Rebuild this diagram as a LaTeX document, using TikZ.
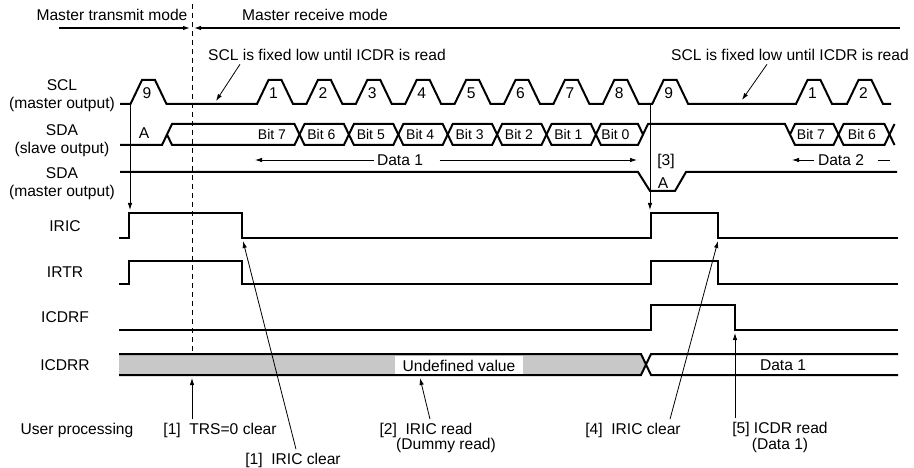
\documentclass[tikz,border=0pt]{standalone}
\usepackage{fontspec}
\setmainfont{Liberation Sans}
\usetikzlibrary{arrows.meta}
\definecolor{undefgray}{RGB}{200,200,200}
\tikzset{
  wave/.style={line width=2pt},
  note/.style={line width=0.8pt,-{Latex[length=7pt,width=4.5pt]}},
  sig/.style={align=center},
  bitlab/.style={font=\fontsize{14}{16}\selectfont},
}
\begin{document}
\begin{tikzpicture}[x=1pt,y=-1pt,font=\fontsize{15.6}{18}\selectfont]
  \useasboundingbox (0,0) rectangle (914,468);
  \node (tx) at (112,15) {Master transmit mode};
  \node (rx) at (315,15) {Master receive mode};
  \coordinate (txs) at (59,28);
  \coordinate (txe) at (190,28);
  \coordinate (rxs) at (900,28);
  \coordinate (rxe) at (194,28);
  \draw[note,line width=1.2pt] (txs) -- (txe);
  \draw[note,line width=1.2pt] (rxs) -- (rxe);
  \draw[dash pattern=on 5pt off 4pt,line width=0.9pt] (192,4) -- (192,375);

  \node[sig] (scl) at (62,96) {SCL\\(master output)};
  \node[sig] (sdas) at (62,141) {SDA\\(slave output)};
  \node[sig] (sdam) at (62,184) {SDA\\(master output)};
  \node (iric) at (65,226) {IRIC};
  \node (irtr) at (65,272) {IRTR};
  \node (icdrf) at (65,317) {ICDRF};
  \node (icdrr) at (65,365) {ICDRR};

  \draw[wave] (120,104) foreach \c in {148.5,275,324.4,373.8,423.2,472.6,522,571.4,620.8,670.2,814,865}
    { -- (\c-18,104) -- (\c-6.5,80) -- (\c+6.5,80) -- (\c+18,104) } -- (891,104);
  \foreach \c/\n [count=\i] in {148.5/9,275/1,324.4/2,373.8/3,423.2/4,472.6/5,522/6,571.4/7,620.8/8,670.2/9,814/1,865/2}
    \node (num\i) at (\c-1.5,93) {\n};

  \draw[wave] (120,145) -- (162,145) -- (167,134.5);
  \foreach \a/\b/\t [count=\i] in {167/299.5/7,299.5/348.9/6,348.9/398.3/5,398.3/447.7/4,447.7/497.1/3,497.1/546.5/2,546.5/595.9/1,595.9/643/0,790/838.5/7,838.5/889.5/6} {
    \draw[wave] (\a,134.5) -- (\a+5,124) -- (\b-5,124) -- (\b,134.5) -- (\b-5,145) -- (\a+5,145) -- cycle;
    \node[bitlab] (bit\i) at (\b-27.5,134.5) {Bit \t};
  }
  \draw[wave] (643,134.5) -- (648,124) -- (785,124) -- (790,134.5);
  \draw[wave] (889.5,134.5) -- (894.5,124) (889.5,134.5) -- (894.5,145);
  \node (acks) at (144,133) {A};

  \node (data1) at (400,160) {Data 1};
  \coordinate (d1l) at (255,160);
  \coordinate (d1r) at (637,160);
  \draw[note] ([xshift=1pt]data1.west) -- (d1l);
  \draw[note] ([xshift=13pt]data1.east) -- (d1r);
  \node (data2) at (841,160) {Data 2};
  \coordinate (d2l) at (792,160);
  \coordinate (d2r) at (890,160);
  \draw[note] (data2.west) -- (d2l);
  \draw[line width=0.8pt] ([xshift=10pt]data2.east) -- (d2r);
  \node (ack3) at (666,161) {[3]};

  \draw[wave] (120,172) -- (638,172) -- (650,191) -- (675,191) -- (686,172) -- (897,172);
  \node (ackm) at (663,183) {A};

  \draw[wave] (119,238) -- (129,238) -- (129,213.5) -- (242,213.5) -- (242,238) -- (651,238)
    -- (651,213.5) -- (718,213.5) -- (718,238) -- (898,238);
  \draw[wave] (119,284) -- (129,284) -- (129,260.5) -- (242,260.5) -- (242,284) -- (651,284)
    -- (651,260.5) -- (718,260.5) -- (718,284) -- (898,284);
  \draw[wave] (119,330) -- (651,330) -- (651,305) -- (735,305) -- (735,330) -- (898,330);

  \fill[undefgray] (119,354) -- (641,354) -- (646,364.5) -- (641,375) -- (119,375) -- cycle;
  \node[fill=white,inner xsep=8pt,minimum height=17pt] (undef) at (459,365.5) {Undefined value};
  \draw[wave] (119,354) -- (641,354) -- (651,375) -- (898,375);
  \draw[wave] (119,375) -- (641,375) -- (651,354) -- (898,354);
  \node (data1r) at (783,365) {Data 1};

  \coordinate (sclup) at (130,104);
  \coordinate (iricup) at (130,210);
  \draw[note] (sclup) -- (iricup);
  \coordinate (sclupb) at (650,104);
  \coordinate (iricupb) at (650,210);
  \draw[note] (sclupb) -- (iricupb);

  \node (fixa) at (327,55) {SCL is fixed low until ICDR is read};
  \node (fixb) at (790,55) {SCL is fixed low until ICDR is read};
  \coordinate (lowa) at (216,101);
  \coordinate (lowb) at (742,100);
  \draw[note] ([xshift=-87pt]fixa.south) -- (lowa);
  \draw[note] ([xshift=-23pt]fixb.south) -- (lowb);

  \node (userp) at (77,430) {User processing};
  \node (trs) at (220,430) {[1]\ \ TRS=0 clear};
  \coordinate (trsend) at (192,378);
  \draw[note] (trsend |- trs.north) -- (trsend);
  \node (iricclra) at (293,460) {[1]\ \ IRIC clear};
  \coordinate (falla) at (243,241);
  \draw[note] ([xshift=3pt]iricclra.north) -- (falla);
  \node (iricrd) at (426,430) {[2]\ \ IRIC read};
  \node (dummy) at (446,445) {(Dummy read)};
  \coordinate (rdend) at (420,378);
  \draw[note] ([xshift=4pt]iricrd.north) -- (rdend);
  \node (iricclrb) at (633,430) {[4]\ \ IRIC clear};
  \coordinate (fallb) at (718,241);
  \draw[note] ([xshift=37pt]iricclrb.north) -- (fallb);
  \node[align=center,font=\fontsize{15.6}{16}\selectfont] (icdrrd) at (780,437) {[5] ICDR read\\(Data 1)};
  \coordinate (fallf) at (735,333);
  \draw[note] (fallf |- icdrrd.north) -- (fallf);
\end{tikzpicture}
\end{document}
